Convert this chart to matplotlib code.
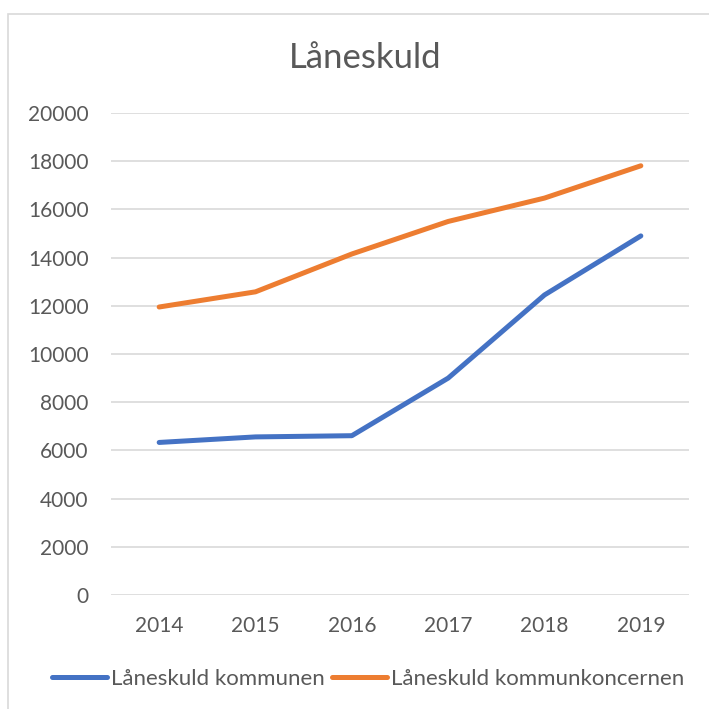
import matplotlib.pyplot as plt
from matplotlib.patches import Rectangle

years = ["2014", "2015", "2016", "2017", "2018", "2019"]
kommunen = [6330, 6560, 6610, 9000, 12450, 14900]
koncernen = [11950, 12580, 14150, 15500, 16470, 17810]
yticks = [0, 2000, 4000, 6000, 8000, 10000, 12000, 14000, 16000, 18000, 20000]

plt.rcParams['font.family'] = ['Lato', 'DejaVu Sans']
txt = '#595959'

fig = plt.figure(figsize=(7.09, 7.09), dpi=100)
fig.patches.append(Rectangle((8/709, -0.1), 1.1, 1 - 14/709 + 0.1, transform=fig.transFigure,
                             fill=False, edgecolor='#D9D9D9', linewidth=1.2))

ax = fig.add_axes([111/709, 114/709, 578/709, 482/709])
x = list(range(len(years)))
ax.plot(x, kommunen, color='#4472C4', linewidth=3.6, solid_capstyle='round',
        solid_joinstyle='round', label='Låneskuld kommunen')
ax.plot(x, koncernen, color='#ED7D31', linewidth=3.6, solid_capstyle='round',
        solid_joinstyle='round', label='Låneskuld kommunkoncernen')

ax.set_xlim(-0.5, len(years) - 0.5)
ax.set_ylim(0, 20000)
ax.set_yticks(yticks)
ax.set_yticklabels([str(v) for v in yticks])
ax.set_xticks(x)
ax.set_xticklabels(years)
ax.grid(axis='y', color='#D9D9D9', linewidth=1.2)
ax.set_axisbelow(True)
for s in ax.spines.values():
    s.set_visible(False)
ax.tick_params(length=0, labelsize=15, colors=txt)
ax.tick_params(axis='y', pad=16)
ax.tick_params(axis='x', pad=15)

fig.text(365/709, 1 - 58/709, 'Låneskuld', ha='center', va='center', fontsize=25, color=txt)

leg = fig.legend(loc='center', bbox_to_anchor=(368/709, 1 - 679/709), ncol=2, frameon=False,
                 fontsize=16, handlelength=2.48, handletextpad=0.19, columnspacing=0.33,
                 labelcolor=txt, borderpad=0)

fig.savefig('out.png', dpi=100)
